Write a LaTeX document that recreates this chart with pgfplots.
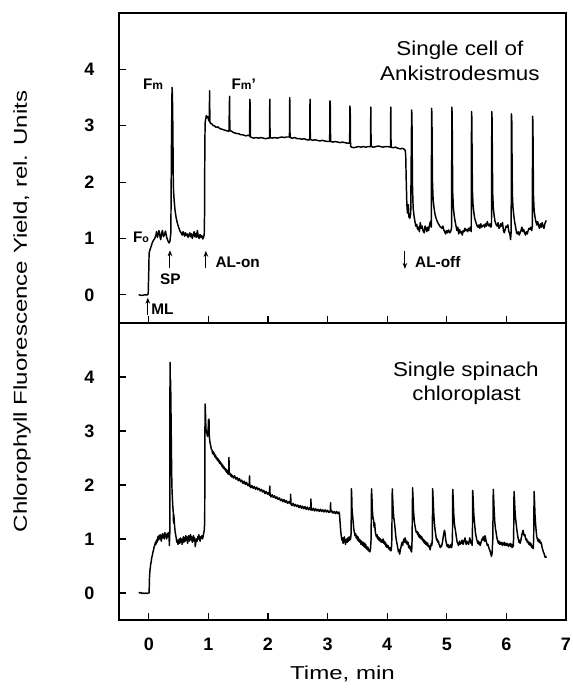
\documentclass[border=0pt]{standalone}
\usepackage{pgfplots}
\pgfplotsset{compat=1.18}
\usepackage{fontspec}
\setmainfont{Liberation Sans}
\newfontfamily\axisfont[FakeStretch=1.29]{Liberation Sans}
\newfontfamily\boxfont[FakeStretch=1.12]{Liberation Sans}
\usetikzlibrary{arrows.meta}
\begin{document}
\begin{tikzpicture}
\pgfplotsset{
  panel/.style={
    scale only axis, width=335.25pt, xmin=-0.5, xmax=7, ymin=-0.5, ymax=5,
    xtick={0,1,2,3,4,5,6,7}, ytick={0,1,2,3,4},
    xtick pos=bottom, ytick pos=left, tick align=inside,
    major tick length=5pt,
    every tick/.style={black, line width=0.8pt},
    axis line style={line width=1.1pt},
    /pgf/number format/assume math mode=true,
    ticklabel style={font=\bfseries\fontsize{13.5}{16}\selectfont},
    yticklabel style={xshift=-15pt},
    xticklabel style={yshift=-10pt},
  },
  trace/.style={black, line width=1.1pt, line join=round, no marks},
}
\tikzset{
  ann/.style={font=\bfseries\fontsize{11.5}{13}\selectfont, inner sep=0pt},
  arr/.style={line width=0.8pt, -{Stealth[length=4.5pt,width=3.5pt]}},
}
% ---------------- lower panel ----------------
\begin{axis}[panel, at={(0,0)}, anchor=south west, height=222.75pt,
  xlabel={\axisfont\fontsize{14}{16}\selectfont Time, min},
  xlabel style={at={(axis description cs:0.5,0)}, anchor=center, yshift=-40.5pt}]
\addplot[trace] table {
t v
-0.17 0.01
-0.15 0.00
-0.13 0.01
-0.11 -0.01
-0.09 0.00
-0.07 -0.01
-0.05 0.00
-0.03 -0.01
-0.01 0.00
0.005 0.00
0.012 0.30
0.02 0.42
0.03 0.52
0.04 0.58
0.05 0.66
0.06 0.70
0.07 0.76
0.08 0.80
0.09 0.86
0.10 0.88
0.11 0.94
0.12 0.90
0.13 0.98
0.14 0.94
0.15 1.04
0.16 0.98
0.17 1.06
0.18 1.00
0.19 1.08
0.20 1.02
0.21 0.96
0.22 1.06
0.23 1.10
0.24 1.02
0.25 1.08
0.26 1.00
0.27 1.12
0.28 1.04
0.29 1.08
0.30 1.00
0.31 1.10
0.32 1.04
0.33 1.12
0.34 1.06
0.345 0.88
0.352 1.10
0.356 4.27
0.362 3.60
0.366 3.95
0.372 3.40
0.378 2.80
0.384 2.20
0.39 1.90
0.40 1.65
0.41 1.50
0.415 1.30
0.42 1.45
0.43 1.28
0.44 1.15
0.45 1.08
0.46 1.02
0.47 0.94
0.48 0.98
0.49 0.90
0.50 0.96
0.51 1.00
0.52 0.92
0.53 1.02
0.54 0.94
0.55 1.00
0.56 0.90
0.57 0.98
0.58 1.04
0.59 0.94
0.60 1.02
0.61 0.96
0.62 1.06
0.63 0.98
0.64 1.04
0.65 0.92
0.66 1.00
0.67 1.06
0.68 0.96
0.69 1.02
0.70 1.08
0.71 0.98
0.72 1.04
0.73 0.94
0.74 1.00
0.75 1.06
0.76 0.96
0.77 1.02
0.78 0.86
0.79 0.94
0.80 1.00
0.81 0.96
0.82 1.04
0.83 1.00
0.84 1.08
0.85 1.00
0.86 0.96
0.87 1.04
0.88 1.02
0.89 1.06
0.90 1.00
0.91 1.04
0.92 1.10
0.93 1.16
0.938 1.30
0.942 3.00
0.946 3.50
0.952 3.30
0.958 3.05
0.965 3.00
0.975 2.95
0.985 2.90
0.995 2.98
1.00 3.20
1.01 3.22
1.015 2.90
1.025 2.80
1.04 2.72
1.05 2.66
1.06 2.65
1.07 2.58
1.08 2.62
1.09 2.56
1.10 2.59
1.11 2.52
1.12 2.55
1.13 2.49
1.14 2.51
1.15 2.46
1.16 2.49
1.17 2.43
1.18 2.46
1.19 2.40
1.20 2.43
1.21 2.38
1.22 2.40
1.23 2.34
1.24 2.37
1.25 2.31
1.26 2.34
1.27 2.29
1.28 2.31
1.29 2.26
1.30 2.29
1.31 2.23
1.32 2.26
1.33 2.20
1.34 2.23
1.345 2.51
1.35 2.20
1.36 2.22
1.37 2.17
1.38 2.20
1.39 2.15
1.40 2.18
1.42 2.13
1.44 2.17
1.46 2.11
1.48 2.14
1.50 2.08
1.52 2.12
1.54 2.06
1.56 2.09
1.58 2.03
1.60 2.07
1.62 2.01
1.64 2.05
1.66 1.99
1.68 2.02
1.685 1.98
1.69 2.17
1.695 2.00
1.71 1.95
1.73 1.99
1.75 1.94
1.77 1.97
1.79 1.92
1.81 1.96
1.83 1.91
1.85 1.94
1.87 1.89
1.89 1.92
1.91 1.87
1.93 1.90
1.95 1.84
1.97 1.88
1.99 1.83
2.01 1.86
2.025 1.81
2.03 1.98
2.035 1.82
2.05 1.78
2.07 1.82
2.09 1.77
2.11 1.80
2.13 1.75
2.15 1.78
2.17 1.73
2.19 1.76
2.21 1.71
2.23 1.74
2.25 1.69
2.27 1.73
2.29 1.68
2.31 1.71
2.33 1.66
2.35 1.69
2.375 1.65
2.38 1.83
2.385 1.66
2.40 1.62
2.42 1.66
2.44 1.61
2.46 1.64
2.48 1.60
2.50 1.63
2.52 1.58
2.54 1.62
2.56 1.57
2.58 1.61
2.60 1.56
2.62 1.60
2.64 1.55
2.66 1.59
2.68 1.54
2.70 1.58
2.715 1.54
2.72 1.74
2.725 1.56
2.74 1.53
2.76 1.57
2.78 1.52
2.80 1.56
2.82 1.52
2.84 1.55
2.86 1.51
2.88 1.55
2.90 1.51
2.92 1.54
2.94 1.50
2.96 1.54
2.98 1.50
3.00 1.53
3.02 1.49
3.045 1.52
3.05 1.67
3.055 1.50
3.07 1.52
3.09 1.48
3.11 1.51
3.13 1.47
3.15 1.51
3.17 1.47
3.19 1.50
3.20 1.45
3.21 1.30
3.22 1.15
3.23 1.05
3.24 0.98
3.25 1.02
3.26 0.92
3.27 0.96
3.28 1.04
3.29 0.98
3.30 0.90
3.31 0.96
3.32 1.00
3.33 0.94
3.34 1.02
3.35 0.96
3.36 1.04
3.37 0.98
3.385 1.00
3.395 1.10
3.40 1.93
3.405 1.80
3.41 1.55
3.42 1.43
3.43 1.30
3.44 1.18
3.45 1.12
3.46 1.06
3.47 1.10
3.48 1.02
3.49 1.06
3.50 0.98
3.51 1.04
3.52 0.96
3.53 1.00
3.54 0.94
3.55 0.98
3.56 0.90
3.57 0.96
3.58 0.92
3.59 0.88
3.60 0.94
3.61 0.86
3.62 0.92
3.63 0.84
3.64 0.90
3.65 0.82
3.66 0.86
3.67 0.80
3.68 0.84
3.69 0.78
3.70 0.80
3.71 0.76
3.72 0.82
3.73 1.00
3.737 1.93
3.745 1.75
3.75 1.55
3.76 1.40
3.77 1.36
3.78 1.22
3.79 1.30
3.80 1.14
3.81 1.08
3.82 1.04
3.83 1.08
3.84 1.00
3.85 1.04
3.86 0.98
3.87 1.02
3.88 0.96
3.89 1.00
3.90 0.94
3.91 0.98
3.92 0.94
3.93 1.00
3.94 0.92
3.95 0.96
3.96 0.90
3.97 0.94
3.98 0.86
3.99 0.90
4.00 0.84
4.01 0.88
4.02 0.86
4.03 0.82
4.04 0.80
4.05 0.84
4.06 0.78
4.07 0.80
4.078 1.00
4.085 1.93
4.092 1.75
4.10 1.55
4.11 1.40
4.12 1.32
4.13 1.22
4.14 1.10
4.15 1.00
4.16 0.94
4.17 0.88
4.18 0.82
4.19 0.76
4.20 0.80
4.21 0.72
4.22 0.80
4.23 0.84
4.24 0.90
4.25 0.94
4.26 0.88
4.27 0.96
4.28 1.00
4.29 0.94
4.30 1.02
4.31 0.98
4.32 0.92
4.33 0.96
4.34 0.90
4.35 0.94
4.36 0.84
4.37 0.88
4.38 0.82
4.39 0.86
4.40 0.78
4.41 0.76
4.418 1.00
4.426 1.95
4.434 1.75
4.44 1.55
4.45 1.40
4.46 1.28
4.47 1.22
4.48 1.16
4.49 1.12
4.50 1.14
4.51 1.08
4.52 1.12
4.53 1.04
4.54 1.08
4.55 1.02
4.56 1.06
4.57 1.00
4.58 1.04
4.59 0.98
4.60 1.00
4.61 0.94
4.62 0.98
4.63 0.92
4.64 0.96
4.65 0.90
4.66 0.94
4.67 0.88
4.68 0.92
4.69 0.86
4.70 0.88
4.71 0.84
4.72 0.80
4.73 0.86
4.74 0.92
4.75 0.88
4.757 1.00
4.763 1.93
4.77 1.75
4.78 1.50
4.79 1.32
4.80 1.20
4.81 1.12
4.82 1.04
4.83 0.98
4.84 1.00
4.85 0.94
4.86 0.96
4.87 0.90
4.88 0.88
4.89 0.84
4.90 0.88
4.91 0.86
4.92 0.90
4.93 0.96
4.94 1.04
4.95 1.10
4.96 1.16
4.97 1.12
4.98 1.00
4.99 0.94
5.00 0.88
5.01 0.86
5.02 0.90
5.03 0.84
5.04 0.88
5.05 0.84
5.06 0.86
5.07 0.90
5.08 0.84
5.09 0.90
5.095 1.05
5.10 1.92
5.107 1.75
5.115 1.50
5.125 1.32
5.135 1.22
5.145 1.16
5.155 1.08
5.165 1.00
5.175 0.94
5.185 0.92
5.195 0.88
5.205 0.92
5.215 0.96
5.225 0.90
5.235 0.94
5.245 0.92
5.255 0.98
5.265 0.94
5.275 0.90
5.285 0.96
5.295 0.98
5.305 1.02
5.315 0.94
5.325 0.90
5.335 0.96
5.345 0.92
5.355 0.94
5.365 0.90
5.375 0.96
5.385 1.02
5.395 0.98
5.405 0.92
5.415 0.96
5.425 0.88
5.43 1.05
5.435 1.90
5.442 1.75
5.45 1.52
5.46 1.36
5.47 1.24
5.48 1.12
5.49 1.06
5.50 1.00
5.51 0.96
5.52 0.92
5.53 0.96
5.54 0.90
5.55 0.94
5.56 0.88
5.57 0.92
5.58 0.96
5.59 1.00
5.60 0.98
5.61 1.04
5.62 1.00
5.63 0.96
5.64 1.06
5.65 1.02
5.66 0.96
5.67 0.92
5.68 0.88
5.69 0.90
5.70 0.86
5.71 0.82
5.72 0.80
5.73 0.76
5.74 0.72
5.75 0.68
5.76 0.74
5.772 1.00
5.78 1.92
5.787 1.75
5.795 1.52
5.805 1.32
5.815 1.20
5.825 1.14
5.835 1.06
5.845 1.00
5.855 0.96
5.865 0.92
5.875 0.96
5.885 0.90
5.895 0.94
5.905 0.92
5.915 0.90
5.925 0.94
5.935 0.88
5.945 0.92
5.955 0.90
5.965 0.94
5.975 0.88
5.985 0.92
5.995 0.90
6.005 0.88
6.015 0.92
6.025 0.90
6.035 0.86
6.045 0.90
6.055 0.88
6.065 0.92
6.075 0.86
6.085 0.90
6.095 0.84
6.105 0.90
6.115 0.86
6.122 1.05
6.128 1.88
6.135 1.75
6.143 1.55
6.152 1.40
6.162 1.30
6.172 1.20
6.182 1.12
6.192 1.04
6.20 1.00
6.21 0.94
6.22 0.98
6.23 0.92
6.24 0.96
6.25 1.02
6.26 1.08
6.27 1.12
6.28 1.16
6.29 1.10
6.30 1.06
6.31 1.08
6.32 1.02
6.33 0.98
6.34 1.00
6.35 0.94
6.36 0.96
6.37 0.92
6.38 0.90
6.39 0.94
6.40 0.88
6.41 0.92
6.42 0.86
6.43 0.84
6.44 0.88
6.45 0.82
6.458 1.00
6.465 1.88
6.472 1.70
6.48 1.45
6.49 1.28
6.50 1.14
6.51 1.04
6.52 1.00
6.53 0.96
6.54 1.00
6.55 0.94
6.56 0.98
6.57 0.92
6.58 0.94
6.59 0.90
6.60 0.84
6.61 0.80
6.62 0.76
6.63 0.74
6.64 0.70
6.65 0.66
6.66 0.68
6.665 0.65
};
\node[font=\boxfont\fontsize{15}{18}\selectfont, anchor=base, inner sep=0pt] at (axis cs:5.32,4.0) {Single spinach};
\node[font=\boxfont\fontsize{15}{18}\selectfont, anchor=base, inner sep=0pt] at (axis cs:5.33,3.56) {chloroplast};
\end{axis}
% ---------------- upper panel ----------------
\begin{axis}[panel, at={(0,222.75pt)}, anchor=south west, height=232.5pt,
  xticklabels={}]
\addplot[trace] table {
t v
-0.17 0.00
-0.12 -0.01
-0.06 0.00
-0.02 0.00
-0.01 0.02
0.00 0.45
0.005 0.74
0.02 0.80
0.04 0.86
0.06 0.93
0.08 0.97
0.10 1.00
0.12 1.06
0.13 1.12
0.145 1.02
0.16 1.08
0.17 1.14
0.185 1.05
0.20 0.98
0.215 1.10
0.23 1.14
0.245 1.03
0.26 1.06
0.28 1.13
0.30 1.02
0.32 0.96
0.34 0.92
0.355 0.95
0.37 1.10
0.38 2.60
0.39 3.68
0.395 3.58
0.40 3.30
0.405 2.80
0.41 2.10
0.415 1.85
0.425 1.68
0.44 1.50
0.46 1.36
0.48 1.27
0.50 1.20
0.52 1.14
0.54 1.10
0.56 1.06
0.575 1.12
0.59 1.08
0.60 1.04
0.615 1.10
0.63 1.05
0.645 1.08
0.66 1.02
0.675 1.07
0.69 1.10
0.70 1.03
0.715 1.08
0.73 1.00
0.745 1.06
0.76 1.12
0.775 1.03
0.79 1.09
0.80 1.02
0.815 1.14
0.83 1.04
0.845 1.00
0.86 1.07
0.875 1.02
0.89 1.05
0.905 0.99
0.92 1.02
0.93 1.08
0.935 1.40
0.94 2.60
0.945 3.05
0.955 3.12
0.965 3.18
0.975 3.14
0.99 3.16
1.005 3.10
1.015 3.08
1.02 3.62
1.025 3.06
1.04 3.04
1.06 3.03
1.08 3.00
1.10 3.00
1.13 2.97
1.16 2.98
1.19 2.95
1.22 2.94
1.25 2.93
1.28 2.92
1.31 2.91
1.345 2.90
1.355 3.52
1.36 2.92
1.39 2.90
1.42 2.88
1.45 2.87
1.48 2.86
1.51 2.86
1.54 2.84
1.57 2.84
1.60 2.83
1.63 2.82
1.66 2.83
1.69 2.82
1.695 3.47
1.70 3.40
1.705 2.80
1.73 2.79
1.76 2.78
1.80 2.79
1.84 2.78
1.88 2.79
1.92 2.78
1.96 2.77
2.00 2.78
2.025 2.78
2.03 3.47
2.035 2.79
2.07 2.78
2.11 2.79
2.15 2.78
2.19 2.79
2.23 2.80
2.27 2.79
2.31 2.80
2.36 2.80
2.365 3.50
2.37 2.79
2.41 2.78
2.45 2.79
2.49 2.77
2.53 2.77
2.57 2.76
2.61 2.77
2.65 2.75
2.70 2.75
2.705 3.47
2.71 2.76
2.75 2.74
2.79 2.75
2.83 2.74
2.87 2.73
2.91 2.74
2.95 2.73
3.00 2.72
3.035 2.72
3.04 3.44
3.045 3.35
3.05 2.72
3.09 2.71
3.13 2.72
3.17 2.71
3.21 2.70
3.25 2.71
3.29 2.70
3.33 2.69
3.37 2.69
3.375 3.35
3.38 3.25
3.385 2.64
3.40 2.62
3.44 2.61
3.48 2.62
3.52 2.63
3.56 2.62
3.60 2.63
3.64 2.62
3.68 2.63
3.72 2.63
3.725 3.33
3.73 2.63
3.77 2.62
3.81 2.63
3.85 2.64
3.89 2.63
3.93 2.62
3.97 2.63
4.01 2.63
4.055 2.62
4.06 3.33
4.065 2.62
4.10 2.61
4.14 2.62
4.18 2.60
4.22 2.59
4.26 2.60
4.30 2.57
4.31 2.50
4.32 2.00
4.33 1.60
4.34 1.45
4.355 1.60
4.365 1.38
4.38 1.36
4.395 1.45
4.41 3.28
4.415 3.20
4.42 2.50
4.425 1.90
4.435 1.55
4.45 1.40
4.465 1.30
4.48 1.22
4.495 1.25
4.51 1.16
4.525 1.20
4.54 1.12
4.555 1.28
4.57 1.18
4.585 1.22
4.60 1.14
4.62 1.10
4.635 1.22
4.65 1.18
4.665 1.12
4.68 1.20
4.695 1.14
4.71 1.24
4.725 1.30
4.74 1.20
4.745 3.31
4.75 3.22
4.755 2.60
4.76 2.00
4.77 1.70
4.785 1.55
4.80 1.44
4.82 1.36
4.84 1.30
4.86 1.26
4.88 1.22
4.90 1.20
4.92 1.18
4.935 1.22
4.95 1.15
4.965 1.12
4.98 1.08
4.995 1.14
5.01 1.10
5.03 1.15
5.05 1.10
5.07 1.14
5.08 1.20
5.085 3.33
5.09 3.20
5.095 2.40
5.10 1.80
5.11 1.55
5.125 1.40
5.14 1.30
5.155 1.22
5.17 1.14
5.185 1.20
5.20 1.08
5.215 1.16
5.23 1.10
5.245 1.12
5.26 1.06
5.275 1.14
5.29 1.12
5.305 1.18
5.32 1.14
5.335 1.16
5.35 1.12
5.365 1.18
5.38 1.14
5.395 1.20
5.41 1.12
5.415 3.25
5.42 3.15
5.425 2.40
5.43 1.85
5.44 1.60
5.455 1.45
5.47 1.35
5.49 1.28
5.51 1.22
5.525 1.20
5.54 1.24
5.555 1.18
5.57 1.26
5.585 1.20
5.60 1.22
5.62 1.24
5.635 1.20
5.65 1.26
5.665 1.22
5.68 1.30
5.695 1.24
5.71 1.22
5.725 1.26
5.74 1.20
5.75 1.24
5.755 3.25
5.76 3.12
5.765 2.40
5.77 1.80
5.78 1.55
5.795 1.40
5.81 1.30
5.83 1.24
5.845 1.22
5.86 1.28
5.875 1.18
5.89 1.20
5.905 1.26
5.92 1.22
5.935 1.28
5.95 1.14
5.965 1.10
5.98 1.16
5.995 1.22
6.01 1.20
6.025 1.24
6.04 1.12
6.055 1.10
6.07 0.98
6.08 1.12
6.085 3.21
6.09 3.10
6.095 2.40
6.10 1.80
6.11 1.55
6.125 1.40
6.14 1.28
6.155 1.20
6.17 1.10
6.185 1.08
6.20 1.12
6.215 1.06
6.23 1.10
6.245 1.14
6.26 1.20
6.275 1.12
6.29 1.16
6.305 1.10
6.32 1.06
6.335 1.12
6.35 1.08
6.365 1.14
6.38 1.18
6.395 1.16
6.41 1.20
6.425 1.14
6.435 1.22
6.44 3.17
6.445 3.05
6.45 2.30
6.455 1.75
6.465 1.50
6.48 1.38
6.495 1.30
6.51 1.24
6.525 1.30
6.54 1.22
6.555 1.18
6.57 1.26
6.585 1.20
6.60 1.28
6.615 1.22
6.63 1.18
6.645 1.26
6.66 1.30
6.67 1.32
};
\node[font=\boxfont\fontsize{15}{18}\selectfont, anchor=base, inner sep=0pt] at (axis cs:5.22,4.25) {Single cell of};
\node[font=\boxfont\fontsize{15}{18}\selectfont, anchor=base, inner sep=0pt] at (axis cs:5.22,3.81) {Ankistrodesmus};
% annotations
\node[ann, anchor=base west] at (axis cs:-0.10,3.65) {F{\fontsize{9}{10}\selectfont m}};
\node[ann, anchor=base west] at (axis cs:1.384,3.65) {F{\fontsize{9}{10}\selectfont m}'};
\node[ann, anchor=base west] at (axis cs:-0.268,0.93) {F{\fontsize{8}{9}\selectfont o}};
\draw[arr] (axis cs:-0.017,-0.36) -- (axis cs:-0.017,-0.05);
\node[ann, anchor=base west] at (axis cs:0.04,-0.35) {ML};
\draw[arr] (axis cs:0.355,0.48) -- (axis cs:0.355,0.79);
\node[ann, anchor=base] at (axis cs:0.36,0.18) {SP};
\draw[arr] (axis cs:0.958,0.48) -- (axis cs:0.958,0.78);
\node[ann, anchor=base west] at (axis cs:1.115,0.48) {AL-on};
\draw[arr] (axis cs:4.297,0.77) -- (axis cs:4.297,0.46);
\node[ann, anchor=base west] at (axis cs:4.466,0.48) {AL-off};
\end{axis}
\node[rotate=90, font=\axisfont\fontsize{14}{16}\selectfont] at (-72.75pt,231.4pt) {Chlorophyll Fluorescence Yield, rel. Units};
\pgfresetboundingbox
\path (-89.25pt,-51pt) rectangle (340.5pt,465pt);
\end{tikzpicture}
\end{document}
